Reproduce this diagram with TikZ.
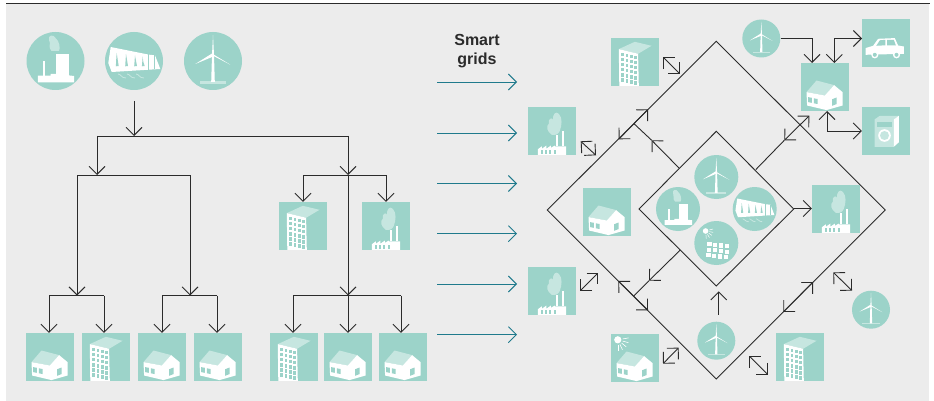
\documentclass[tikz,border=0pt]{standalone}
\usepackage{fontspec}
\setmainfont{Liberation Sans}
\usetikzlibrary{arrows.meta}

\definecolor{tealfill}{HTML}{9CD3C9}
\definecolor{tealpale}{HTML}{C6E6E0}
\definecolor{tealline}{HTML}{1F7A8C}
\definecolor{wirecol}{HTML}{2B2B2B}
\definecolor{panelbg}{HTML}{ECECEC}

\tikzset{
  >={Straight Barb[length=8pt,width=16pt]},
  wire/.style={draw=wirecol,line width=0.9pt},
  feed/.style={draw=tealline,line width=0.9pt,->},
  tile/.style={fill=tealfill,inner sep=0pt,minimum size=48pt},
  bigdisc/.style={circle,fill=tealfill,inner sep=0pt,minimum size=58pt},
  middisc/.style={circle,fill=tealfill,inner sep=0pt,minimum size=44pt},
  smalldisc/.style={circle,fill=tealfill,inner sep=0pt,minimum size=38pt},
  % tile icons: origin is the north west corner of the tile
  houseicon/.pic={
    \fill[tealpale] (5.7,29.3) -- (15.7,17.7) -- (33.3,22.3) -- (24,32.7) -- cycle;
    \fill[white] (5.7,29.3) -- (24,32.7) -- (33.3,22.3) -- (41.7,29.3) -- (41.7,42.7) -- (25.7,47.3) -- (6.3,42.7) -- cycle;
    \fill[tealfill] (7.3,34.3) -- (11,35) -- (11,40) -- (7.3,39.3) -- cycle;
    \fill[tealfill] (13,35.5) -- (16.7,36.2) -- (16.7,41.2) -- (13,40.5) -- cycle;
    \fill[tealfill] (31.3,36.5) -- (35.7,34.7) -- (35.7,41.3) -- (31.3,43) -- cycle;
  },
  towericon/.pic={
    \fill[tealpale] (8,11.3) -- (24,4) -- (40.7,8) -- (27.3,16) -- cycle;
    \fill[white] (8,11.3) -- (27.3,16) -- (28,48) -- (8.5,48) -- cycle;
    \foreach \c in {0,...,3}
      \foreach \r in {0,...,5}
        \fill[tealfill] ({10.6+\c*4.2},{15+\r*5.1+\c*1}) rectangle ++(2.7,3.4);
  },
  factoryicon/.pic={
    \fill[tealpale] (24,28) .. controls (19,25) and (18,19) .. (21,17) .. controls (20,12) and (24,10) .. (25,13) .. controls (25,7) and (28,4) .. (31,7) .. controls (35,11) and (34,19) .. (32,24) .. controls (31,27) and (28,29) .. (24,28) -- cycle;
    \fill[white] (28.3,39) rectangle (30.3,28);
    \fill[white] (34,39) rectangle (36,24);
    \fill[white] (10,48) -- (10,42.5) -- (14,39.5) -- (14,42) -- (18.5,38.8) -- (18.5,42) -- (23,38.8) -- (23,41) -- (27,38.8) -- (27,39.5) -- (38.3,39.5) -- (38.3,48) -- cycle;
    \foreach \w in {13,17.3,21.6,25.9}
      \fill[tealfill] (\w,43.2) rectangle ++(2,3.6);
  },
  caricon/.pic={
    \fill[white] (3.7,29.3) -- (11.3,27) -- (16.3,20) -- (33,19.3) -- (36.3,26.7) -- (42,27.7) -- (42,35) -- (3.7,36) -- cycle;
    \fill[tealfill] (18,21.5) -- (23.5,21) -- (23.5,26.5) -- (14.5,27) -- cycle;
    \fill[tealfill] (25.2,21) -- (32,21) -- (34,26.5) -- (25.2,26.5) -- cycle;
    \foreach \w in {13,34.7} {
      \fill[white] (\w,36) circle (3.6);
      \fill[tealfill] (\w,36) circle (2);
    }
  },
  washericon/.pic={
    \fill[tealpale] (12.7,12.7) -- (18,9) -- (37,9) -- (32,12.7) -- (32,40) -- (12.7,40) -- cycle;
    \fill[white] (32,12.7) -- (37,9) -- (37,35.5) -- (32,40) -- cycle;
    \fill[tealfill] (15,15) rectangle (30,20);
    \fill[white] (22.7,28.7) circle (6.3);
    \fill[tealpale] (22.7,28.7) circle (4.5);
  },
  sunicon/.pic={
    \fill[white] (7,6) circle (3.6);
    \foreach \a in {-10,15,40,65,90}
      \draw[white,line width=0.6pt] (7,6) ++(\a:5) -- ++(\a:6);
  },
  % disc icons: origin is the centre of the disc
  windicon/.pic={
    \fill[tealpale] (-13.3,20.3) rectangle (13.3,22.7);
    \fill[white] (-1,-6) -- (0,-26) -- (1,-6) -- (1.8,21) -- (-1.8,21) -- cycle;
    \fill[white] (-1,-7.5) -- (-17.7,3) -- (1,-4.8) -- cycle;
    \fill[white] (-1,-7.5) -- (17.3,3.7) -- (1,-4.8) -- cycle;
  },
  planticon/.pic={
    \fill[tealpale] (-4,-10) .. controls (-8,-14) and (-4,-17) .. (-6.5,-21) .. controls (-8,-26) and (-2,-27) .. (0,-23) .. controls (4,-20) and (5,-13) .. (3.5,-10) -- cycle;
    \fill[white] (-13,0) rectangle (-10.7,15);
    \fill[white] (0.7,-7.3) rectangle (13,15);
    \fill[white] (-17.7,14.7) -- (-5,14.7) -- (-5,13) -- (1,13) -- (18.7,15) -- (18.7,21.3) -- (-17.7,21.3) -- cycle;
  },
  damicon/.pic={
    \fill[white] (-23.3,-14) -- (15,-6.3) -- (21,-5.7) -- (26.3,8) -- (-22.3,11) -- (-25.7,2) -- cycle;
    \foreach \w/\h in {-17.3/-8,-8/-7,1/-5.5,8.7/-4.5}
      \fill[tealfill] (\w,\h) .. controls (\w+0.6,\h+6) .. (\w+2,5) -- (\w-0.8,5.3) .. controls (\w-0.6,0) .. (\w,\h) -- cycle;
    \fill[tealfill] (13.5,-6.5) rectangle (14.5,8.8);
    \fill[tealfill] (20.2,-6) rectangle (21.2,8.5);
    \foreach \w in {-16,-7,2}
      \draw[tealpale,line width=0.8pt] (\w,13) .. controls (\w+3,13) and (\w+3,17) .. (\w+8,17);
  },
  solaricon/.pic={
    \fill[white] (-10.7,-12) circle (2.8);
    \foreach \a in {-15,10,35,60,85}
      \draw[white,line width=0.5pt] (-10.7,-12) ++(\a:3.8) -- ++(\a:3.8);
    \foreach \c in {0,...,3}
      \foreach \r in {0,...,2}
        \fill[white] ({-9+\c*5.9-\r*0.5},{-1+\c*0.7+\r*5.5}) rectangle ++(4.2,4.2);
  }
}

\begin{document}
\begin{tikzpicture}[x=1pt,y=-1pt]

\useasboundingbox (0,0) rectangle (934,401);
\fill[panelbg] (6,4) rectangle (929,401);
\coordinate (ruleL) at (6,3.7);
\coordinate (ruleR) at (930,3.7);
\draw[wirecol,line width=1pt] (ruleL) -- (ruleR);

% sources and left tree
\node[bigdisc] (plantA) at (55.5,61) {};
\node[bigdisc] (damA) at (134,61) {};
\node[bigdisc] (windA) at (213,61) {};
\pic at (plantA) {planticon};
\pic at (damA) {damicon};
\pic at (windA) {windicon};

\node[tile] (homeA) at (50,357) {};
\node[tile] (blockA) at (106,357) {};
\node[tile] (homeB) at (162,357) {};
\node[tile] (homeC) at (218,357) {};
\node[tile] (blockB) at (294,357) {};
\node[tile] (homeD) at (348,357) {};
\node[tile] (homeE) at (403,357) {};
\node[tile] (blockC) at (303,226) {};
\node[tile] (millA) at (386,226) {};
\foreach \n in {homeA,homeB,homeC,homeD,homeE} \pic at (\n.north west) {houseicon};
\foreach \n in {blockA,blockB,blockC} \pic at (\n.north west) {towericon};
\pic at (millA.north west) {factoryicon};

\coordinate (rootT) at (134,101);
\coordinate (rootB) at (134,136);
\coordinate (busL) at (97,136);
\coordinate (busR) at (348,136);
\coordinate (midL) at (97,175);
\coordinate (midR) at (348,175);
\coordinate (armA) at (77,175);
\coordinate (armB) at (190,175);
\coordinate (armC) at (303,175);
\coordinate (armD) at (386,175);
\coordinate (forkA) at (77,295.5);
\coordinate (forkB) at (190,295.5);
\coordinate (forkC) at (348,295.5);
\coordinate (leafA) at (49,295.5);
\coordinate (leafB) at (104,295.5);
\coordinate (leafC) at (162,295.5);
\coordinate (leafD) at (217,295.5);
\coordinate (leafE) at (293,295.5);
\coordinate (leafF) at (401,295.5);

\draw[wire,->] (rootT) -- (rootB);
\draw[wire] (busL) -- (busR);
\draw[wire,->] (busL) -- (midL);
\draw[wire,->] (busR) -- (midR);
\draw[wire] (armA) -- (armB);
\draw[wire] (armC) -- (armD);
\draw[wire,->] (armA) -- (forkA);
\draw[wire,->] (armB) -- (forkB);
\draw[wire,->] (midR) -- (forkC);
\draw[wire,->] (armC) -- (blockC.north);
\draw[wire,->] (armD) -- (millA.north);
\draw[wire] (leafA) -- (leafB);
\draw[wire] (leafC) -- (leafD);
\draw[wire] (leafE) -- (leafF);
\draw[wire,->] (leafA) -- (leafA |- homeA.north);
\draw[wire,->] (leafB) -- (leafB |- blockA.north);
\draw[wire,->] (leafC) -- (leafC |- homeB.north);
\draw[wire,->] (leafD) -- (leafD |- homeC.north);
\draw[wire,->] (leafE) -- (leafE |- blockB.north);
\draw[wire,->] (forkC) -- (homeD.north);
\draw[wire,->] (leafF) -- (leafF |- homeE.north);

% middle arrows
\node[font=\bfseries\fontsize{16}{18.3}\selectfont,text=wirecol,align=center,inner sep=0pt] (title) at (477,51) {Smart\\grids};
\foreach \i/\yy in {1/82,2/133,3/183.5,4/233.7,5/284,6/334.7} {
  \coordinate (feedS\i) at (437,\yy);
  \coordinate (feedE\i) at (517,\yy);
  \draw[feed] (feedS\i) -- (feedE\i);
}

% diamonds
\coordinate (outerN) at (716.3,41.3);
\coordinate (outerE) at (885.3,210);
\coordinate (outerS) at (716.3,379);
\coordinate (outerW) at (547.3,210);
\coordinate (innerN) at (716.3,131.3);
\coordinate (innerE) at (793.7,209);
\coordinate (innerS) at (716.3,286);
\coordinate (innerW) at (639,209);
\draw[wire] (outerN) -- (outerE) -- (outerS) -- (outerW) -- cycle;
\draw[wire] (innerN) -- (innerE) -- (innerS) -- (innerW) -- cycle;

\node[middisc] (windB) at (716.3,177) {};
\node[middisc] (plantB) at (678,209) {};
\node[middisc] (damB) at (754.7,209) {};
\node[middisc] (sunB) at (716.3,243) {};
\pic[scale=0.75] at (windB) {windicon};
\pic[scale=0.75] at (plantB) {planticon};
\pic[scale=0.75] at (damB) {damicon};
\pic at (sunB) {solaricon};

\node[smalldisc] (windC) at (761.3,38.5) {};
\node[smalldisc] (windD) at (871,309.7) {};
\node[smalldisc] (windE) at (716.3,340.7) {};
\foreach \n in {windC,windD,windE} \pic[scale=0.65] at (\n) {windicon};

\node[tile] (blockD) at (635,62) {};
\node[tile] (millB) at (552,131) {};
\node[tile] (homeF) at (607,212) {};
\node[tile] (millC) at (836,209) {};
\node[tile] (millD) at (552,291) {};
\node[tile] (homeG) at (635,358) {};
\node[tile] (blockE) at (800,357) {};
\node[tile] (homeH) at (825,87) {};
\node[tile] (carT) at (886,43) {};
\node[tile] (washT) at (886,131) {};
\foreach \n in {homeF,homeG,homeH} \pic at (\n.north west) {houseicon};
\foreach \n in {blockD,blockE} \pic at (\n.north west) {towericon};
\foreach \n in {millB,millC,millD} \pic at (\n.north west) {factoryicon};
\pic at (homeG.north west) {sunicon};
\pic at (carT.north west) {caricon};
\pic at (washT.north west) {washericon};

% links between the diamonds
\coordinate (nwA) at (679,168);
\coordinate (nwB) at (651.7,140.3);
\coordinate (nwC) at (634.3,124);
\draw[wire,->] (nwA) -- (nwB);
\draw[wire] (nwB) -- (nwC);
\coordinate (swA) at (680.3,250);
\coordinate (swB) at (649,280.7);
\coordinate (swC) at (634,295.7);
\draw[wire,->] (swA) -- (swB);
\draw[wire] (swB) -- (swC);
\coordinate (neA) at (755.7,169.7);
\coordinate (neB) at (784.3,140.3);
\coordinate (neC) at (809.3,115.7);
\draw[wire] (neA) -- (neB);
\draw[wire,<->] (neB) -- (neC);
\coordinate (eastA) at (793.7,208.5);
\draw[wire,->] (eastA) -- (eastA -| millC.west);
\coordinate (upA) at (718.7,314.7);
\coordinate (upB) at (718.7,291.3);
\draw[wire,->] (upA) -- (upB);

% double arrows, on the outer diamond and free
\foreach \i/\xa/\ya/\xb/\yb in {
  1/618.7/139.3/648/109.3,
  2/618.3/281/648/310.3,
  3/783.3/312/813/282,
  4/663.3/57.3/680/74,
  5/580.7/141.3/596/155.3,
  6/580.3/290.7/598.3/272.7,
  7/663/363.7/678.7/347.7,
  8/749.3/356/768/374.7,
  9/833.3/272.3/852/290.7} {
  \coordinate (dblA\i) at (\xa,\ya);
  \coordinate (dblB\i) at (\xb,\yb);
  \draw[wire,<->] (dblA\i) -- (dblB\i);
}

% top right house
\coordinate (inA) at (812,63);
\coordinate (outB) at (834.3,63);
\coordinate (outC) at (827,111);
\coordinate (carIn) at (862,38.5);
\draw[wire,->] (windC.east) -| (inA);
\draw[wire,<->] (outB) |- (carIn);
\draw[wire,<->] (outC) |- (washT.west);

\end{tikzpicture}
\end{document}
